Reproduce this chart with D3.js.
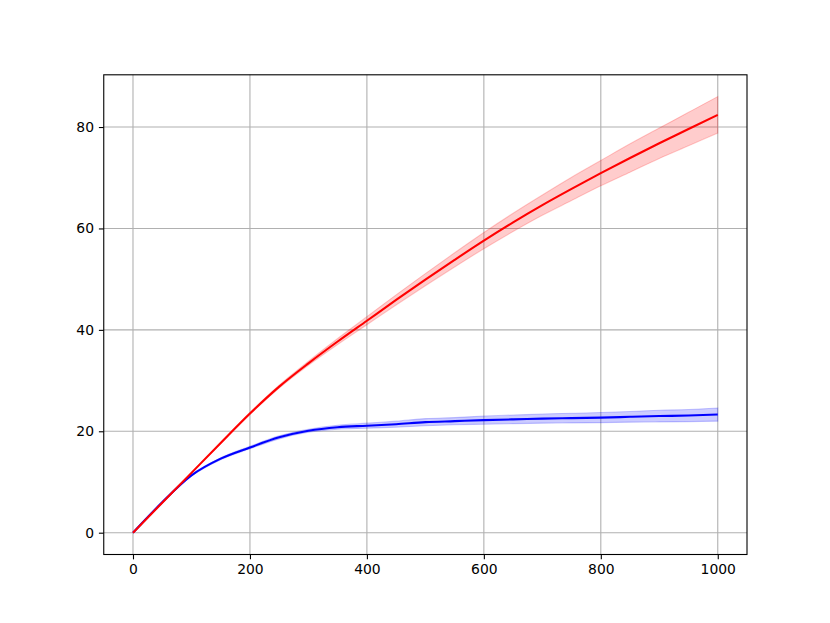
<!DOCTYPE html>
<html>
<head>
<meta charset="utf-8">
<script src="https://cdn.jsdelivr.net/npm/d3@7"></script>
<style>
  body { margin: 0; background: #fff; }
  svg text { font-family: "DejaVu Sans", sans-serif; font-size: 13.9px; fill: #000; }
</style>
</head>
<body>
<svg id="chart" width="830" height="623"></svg>
<script>
// steps along the x axis
var steps = [0, 50, 100, 150, 200, 250, 300, 350, 400, 450, 500,
             550, 600, 650, 700, 750, 800, 850, 900, 950, 1000];

// red series: mean and band
var redMean = [0, 5.9, 11.8, 17.7, 23.5, 28.8, 33.4, 37.7, 41.8, 45.9, 49.9,
               53.8, 57.6, 61.2, 64.6, 67.8, 70.9, 73.9, 76.8, 79.6, 82.4];
var redLow  = [0, 5.85, 11.7, 17.55, 23.3, 28.5, 33.0, 37.1, 41.0, 44.9, 48.7,
               52.4, 56.0, 59.4, 62.6, 65.5, 68.4, 71.1, 73.8, 76.3, 78.8];
var redHigh = [0, 5.95, 11.9, 17.85, 23.7, 29.1, 33.8, 38.3, 42.6, 46.9, 51.1,
               55.2, 59.2, 63.0, 66.6, 70.1, 73.4, 76.7, 79.8, 82.9, 86.0];

// blue series: mean and band
var blueMean = [0, 6.0, 11.3, 14.6, 16.8, 18.8, 20.1, 20.8, 21.1, 21.4, 21.8,
                22.0, 22.2, 22.35, 22.5, 22.6, 22.7, 22.85, 23.0, 23.1, 23.3];
var blueLow  = [0, 5.9, 11.15, 14.4, 16.55, 18.5, 19.8, 20.4, 20.6, 20.8, 21.1,
                21.3, 21.4, 21.5, 21.6, 21.65, 21.7, 21.8, 21.85, 21.9, 22.0];
var blueHigh = [0, 6.1, 11.45, 14.8, 17.05, 19.1, 20.4, 21.2, 21.6, 22.0, 22.5,
                22.7, 23.0, 23.2, 23.4, 23.55, 23.7, 23.9, 24.15, 24.3, 24.6];

var xTicks = [0, 200, 400, 600, 800, 1000];
var yTicks = [0, 20, 40, 60, 80];

(function () {
    var svg = d3.select("#chart"),
        x0 = 103.75, x1 = 747, y0 = 74.8, y1 = 554.5;

    var x = d3.scaleLinear().domain([-50, 1050]).range([x0, x1]);
    var y = d3.scaleLinear().domain([-4.3, 90.3]).range([y1, y0]);

    var g = svg.append("g");

    // grid lines
    g.selectAll(".gx").data(xTicks).enter().append("line")
        .attr("x1", d => x(d)).attr("x2", d => x(d))
        .attr("y1", y0).attr("y2", y1)
        .attr("stroke", "#b0b0b0").attr("stroke-width", 1.1);
    g.selectAll(".gy").data(yTicks).enter().append("line")
        .attr("x1", x0).attr("x2", x1)
        .attr("y1", d => y(d)).attr("y2", d => y(d))
        .attr("stroke", "#b0b0b0").attr("stroke-width", 1.1);

    svg.append("clipPath").attr("id", "plot")
        .append("rect").attr("x", x0).attr("y", y0)
        .attr("width", x1 - x0).attr("height", y1 - y0);

    var plot = svg.append("g").attr("clip-path", "url(#plot)");

    function band(low, high) {
        return d3.area()
            .x((d, i) => x(steps[i]))
            .y0((d, i) => y(low[i]))
            .y1((d, i) => y(high[i]))
            .curve(d3.curveMonotoneX)(steps);
    }
    function line(vals) {
        return d3.line()
            .x((d, i) => x(steps[i]))
            .y((d, i) => y(vals[i]))
            .curve(d3.curveMonotoneX)(steps);
    }

    var series = [
        { low: blueLow, high: blueHigh, mean: blueMean, color: "#0000ff" },
        { low: redLow, high: redHigh, mean: redMean, color: "#ff0000" }
    ];

    series.forEach(function (s) {
        plot.append("path").attr("d", band(s.low, s.high))
            .attr("fill", s.color).attr("fill-opacity", 0.2)
            .attr("stroke", s.color).attr("stroke-opacity", 0.2).attr("stroke-width", 1.1);
        plot.append("path").attr("d", line(s.mean))
            .attr("fill", "none").attr("stroke", s.color).attr("stroke-width", 2.08);
    });

    // axes
    var xAxis = d3.axisBottom(x).tickValues(xTicks).tickSize(4.86).tickPadding(4.86).tickFormat(d3.format("d"));
    var yAxis = d3.axisLeft(y).tickValues(yTicks).tickSize(4.86).tickPadding(4.86).tickFormat(d3.format("d"));

    var ax = svg.append("g").attr("transform", "translate(0," + y1 + ")").call(xAxis);
    var ay = svg.append("g").attr("transform", "translate(" + x0 + ",0)").call(yAxis);
    [ax, ay].forEach(function (a) {
        a.select(".domain").remove();
        a.selectAll(".tick line").attr("stroke", "#000").attr("stroke-width", 1.1);
        a.selectAll("text").attr("font-size", null).attr("font-family", null);
    });

    // frame
    svg.append("rect").attr("x", x0).attr("y", y0)
        .attr("width", x1 - x0).attr("height", y1 - y0)
        .attr("fill", "none").attr("stroke", "#000").attr("stroke-width", 1.1);
})();
</script>
</body>
</html>
